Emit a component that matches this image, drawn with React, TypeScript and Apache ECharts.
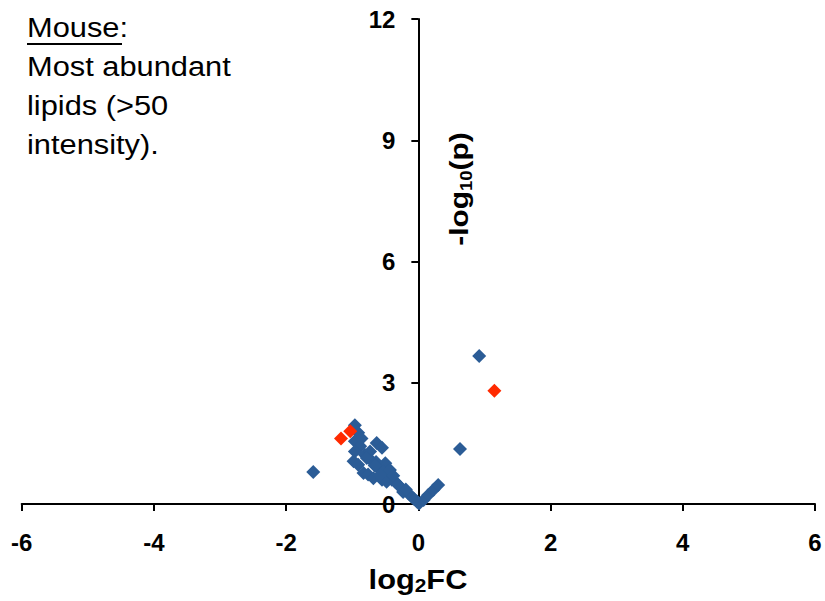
import React, { useEffect, useRef } from "react";
import * as echarts from "echarts";

// log2FC, -log10(p)
const blueLipids: number[][] = [
  [-1.59, 0.79],
  [0.92, 3.66],
  [0.63, 1.36],
  [-0.96, 1.95],
  [-0.91, 1.76],
  [-0.96, 1.55],
  [-0.88, 1.43],
  [-0.96, 1.3],
  [-0.98, 1.06],
  [-0.91, 0.97],
  [-0.83, 0.77],
  [-0.81, 1.22],
  [-0.73, 1.3],
  [-0.63, 1.51],
  [-0.55, 1.39],
  [-0.7, 1.06],
  [-0.76, 0.73],
  [-0.68, 0.64],
  [-0.61, 0.89],
  [-0.5, 1.01],
  [-0.45, 0.81],
  [-0.55, 0.6],
  [-0.4, 0.6],
  [-0.64, 1.04],
  [-0.53, 0.8],
  [-0.43, 0.84],
  [-0.48, 0.55],
  [-0.35, 0.55],
  [-0.28, 0.43],
  [-0.23, 0.3],
  [-0.15, 0.26],
  [-0.1, 0.18],
  [-0.02, 0.06],
  [0.01, 0.01],
  [0.08, 0.1],
  [0.15, 0.22],
  [0.23, 0.35],
  [0.3, 0.47],
  [-0.86, 1.62],
  [-0.78, 1.14],
  [-0.58, 0.72],
  [-0.66, 0.95],
  [-0.38, 0.7],
  [-0.31, 0.48],
  [-0.19, 0.36],
  [-0.06, 0.12],
];

const redLipids: number[][] = [
  [-1.17, 1.62],
  [-1.03, 1.8],
  [1.15, 2.8],
];

const xTicks = { min: -6, max: 6, interval: 2 };
const yTicks = { min: 0, max: 12, interval: 3 };

const noteLines = ["Mouse:", "Most abundant", "lipids (>50", "intensity)."];

const FONT = "'Liberation Sans', Arial, sans-serif";

export default function App() {
  const ref = useRef<HTMLDivElement>(null);
  useEffect(() => {
    if (!ref.current) return;
    const chart = echarts.init(ref.current, undefined, { renderer: "svg" });
    const noteCenters = [27, 66, 105, 144];
    const gridLeft = 21.7;
    const gridRight = 10;
    const plotW = 825 - gridLeft - gridRight;
    const zeroX = gridLeft + (plotW * (0 - xTicks.min)) / (xTicks.max - xTicks.min);
    chart.setOption({
      animation: false,
      backgroundColor: "#fff",
      textStyle: { fontFamily: FONT },
      grid: {
        left: gridLeft,
        right: gridRight,
        top: 19,
        bottom: 97,
        containLabel: false,
        outerBoundsMode: "none",
      },
      xAxis: {
        type: "value",
        min: xTicks.min,
        max: xTicks.max,
        interval: xTicks.interval,
        splitLine: { show: false },
        axisLine: { lineStyle: { color: "#000", width: 2 } },
        axisTick: { show: true, length: 7, lineStyle: { color: "#000", width: 2 } },
        axisLabel: {
          color: "#000",
          fontSize: 24,
          fontWeight: "bold",
          fontFamily: FONT,
          margin: 26,
        },
      },
      yAxis: {
        type: "value",
        min: yTicks.min,
        max: yTicks.max,
        interval: yTicks.interval,
        offset: -(zeroX - gridLeft),
        splitLine: { show: false },
        axisLine: { onZero: false, lineStyle: { color: "#000", width: 2 } },
        axisTick: { show: true, length: 7, lineStyle: { color: "#000", width: 2 } },
        axisLabel: {
          color: "#000",
          fontSize: 24,
          fontWeight: "bold",
          fontFamily: FONT,
          margin: 23,
        },
      },
      series: [
        {
          type: "scatter",
          data: blueLipids,
          symbol: "diamond",
          symbolSize: 14,
          itemStyle: { color: "#2B5C96", opacity: 1 },
        },
        {
          type: "scatter",
          data: redLipids,
          symbol: "diamond",
          symbolSize: 14,
          itemStyle: { color: "#FF2A00", opacity: 1 },
        },
      ],
      graphic: [
        ...noteLines.map((t, i) => ({
          type: "text",
          x: 27,
          y: noteCenters[i],
          scaleX: 1.1,
          style: {
            text: t,
            fill: "#000",
            fontSize: 28,
            fontFamily: FONT,
            align: "left",
            verticalAlign: "middle",
          },
        })),
        {
          type: "line",
          shape: { x1: 27, y1: 44, x2: 122, y2: 44 },
          style: { stroke: "#000", lineWidth: 2 },
        },
        {
          type: "text",
          x: 418,
          y: 579,
          scaleX: 1.1,
          style: {
            text: "{a|log}{b|2}{a|FC}",
            align: "center",
            verticalAlign: "middle",
            fill: "#000",
            rich: {
              a: { fontSize: 28, fontWeight: "bold", fontFamily: FONT, lineHeight: 32, fill: "#000" },
              b: { fontSize: 19, fontWeight: "bold", fontFamily: FONT, lineHeight: 8, verticalAlign: "bottom", fill: "#000" },
            },
          },
        },
        {
          type: "text",
          x: 459,
          y: 189,
          rotation: Math.PI / 2,
          scaleX: 1.15,
          style: {
            text: "{a|-log}{b|10}{a|(p)}",
            align: "center",
            verticalAlign: "middle",
            fill: "#000",
            rich: {
              a: { fontSize: 26, fontWeight: "bold", fontFamily: FONT, lineHeight: 30, fill: "#000" },
              b: { fontSize: 16, fontWeight: "bold", fontFamily: FONT, lineHeight: 8, verticalAlign: "bottom", fill: "#000" },
            },
          },
        },
      ],
    });
    return () => chart.dispose();
  }, []);
  return (
    <div
      ref={ref}
      style={{ position: "fixed", left: 0, top: 0, width: 825, height: 601 }}
    />
  );
}
